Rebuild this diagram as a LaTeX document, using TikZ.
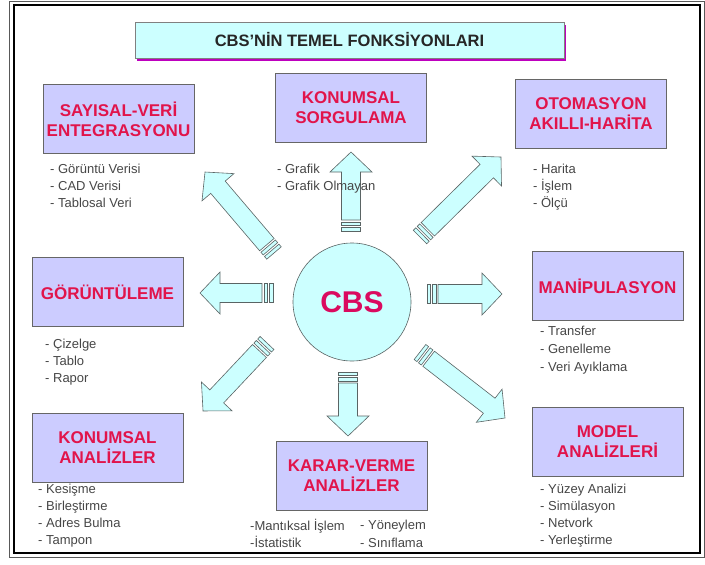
\documentclass[tikz,border=0pt]{standalone}
\usepackage{fontspec}
\setmainfont{Liberation Sans}
\usetikzlibrary{shadows}

\definecolor{boxfill}{RGB}{204,204,255}
\definecolor{cyanfill}{RGB}{204,255,255}
\definecolor{boxred}{RGB}{225,20,75}
\definecolor{cbsred}{RGB}{218,10,95}
\definecolor{shadowmag}{RGB}{190,0,190}
\definecolor{edgegray}{RGB}{90,100,100}
\definecolor{itemgray}{RGB}{70,70,70}

% striped block arrow from tail coordinate #1 to tip coordinate #2
\newcommand{\stripearrow}[2]{%
  \pgfmathanglebetweenpoints{\pgfpointanchor{#1}{center}}{\pgfpointanchor{#2}{center}}%
  \let\arrang\pgfmathresult
  \pgfpointdiff{\pgfpointanchor{#1}{center}}{\pgfpointanchor{#2}{center}}%
  \pgfgetlastxy{\arrdx}{\arrdy}%
  \pgfmathveclen{\arrdx}{\arrdy}%
  \let\arrlen\pgfmathresult
  \begin{scope}[shift={(#1)}, rotate=\arrang]
    \filldraw[barrow] (0,-9.5) rectangle (3.5,9.5);
    \filldraw[barrow] (5.5,-9.5) rectangle (9,9.5);
    \filldraw[barrow] (11,-9.5) -- (\arrlen-20,-9.5) -- (\arrlen-20,-21)
      -- (\arrlen,0) -- (\arrlen-20,21) -- (\arrlen-20,9.5) -- (11,9.5) -- cycle;
  \end{scope}}

\begin{document}
\begin{tikzpicture}[
    x=1pt,
    y=-1pt,
    box/.style={draw=black!60, fill=boxfill, minimum width=151pt, minimum height=69pt,
        inner sep=1pt, align=center, text=boxred, font=\fontsize{17}{20}\selectfont\bfseries},
    headbox/.style={draw=black!50, fill=cyanfill, minimum width=429pt, minimum height=36pt,
        text=black!85, font=\fontsize{16.5}{20}\selectfont\bfseries,
        drop shadow={shadow xshift=2pt, shadow yshift=-3pt, fill=shadowmag, opacity=1}},
    items/.style={anchor=north west, align=left, inner sep=0pt, text=itemgray,
        font=\fontsize{13}{17}\selectfont, execute at begin node=\rule{0pt}{12.5pt}},
    wideitems/.style={items, font=\fontsize{13}{18}\selectfont},
    barrow/.style={draw=edgegray, fill=cyanfill, line width=0.6pt},
    cbs/.style={circle, draw=edgegray, fill=cyanfill, line width=0.6pt, minimum size=118pt,
        text=cbsred, font=\fontsize{30}{36}\selectfont\bfseries},
]
    \useasboundingbox (0,0) rectangle (705,565);
    \draw[black!65, line width=0.8pt] (9,1.5) rectangle (704,557);
    \draw[black, line width=2pt] (14,5) rectangle (700,553);

    \node[headbox] (title) at (349.5,40) {CBS’NİN TEMEL FONKSİYONLARI};

    \node[box] (sayisal) at (118.5,119) {SAYISAL-VERİ\\ENTEGRASYONU};
    \node[box] (sorgu) at (351,107.5) {KONUMSAL\\SORGULAMA};
    \node[box] (otomasyon) at (591,113.5) {OTOMASYON\\AKILLI-HARİTA};
    \node[box] (goruntu) at (107.5,292) {GÖRÜNTÜLEME};
    \node[box] (manip) at (607.5,286) {MANİPULASYON};
    \node[box] (konanaliz) at (107.5,447.5) {KONUMSAL\\ANALİZLER};
    \node[box] (karar) at (351.5,476) {KARAR-VERME\\ANALİZLER};
    \node[box] (model) at (607.5,442) {MODEL\\ANALİZLERİ};

    \node[cbs] (cbs) at (352,302) {CBS};

    \coordinate (t-sorgu) at (351,231);
    \coordinate (h-sorgu) at (351,152);
    \coordinate (t-karar) at (348,372);
    \coordinate (h-karar) at (348,436);
    \coordinate (t-goruntu) at (273,293);
    \coordinate (h-goruntu) at (200,293);
    \coordinate (t-manip) at (427,294);
    \coordinate (h-manip) at (502,294);
    \coordinate (t-sayisal) at (274,253);
    \coordinate (h-sayisal) at (205,172);
    \coordinate (t-otomasyon) at (420,237);
    \coordinate (h-otomasyon) at (501,157);
    \coordinate (t-konanaliz) at (267,343);
    \coordinate (h-konanaliz) at (203,411);
    \coordinate (t-model) at (420,352);
    \coordinate (h-model) at (505,418);

    \stripearrow{t-sorgu}{h-sorgu}
    \stripearrow{t-karar}{h-karar}
    \stripearrow{t-goruntu}{h-goruntu}
    \stripearrow{t-manip}{h-manip}
    \stripearrow{t-sayisal}{h-sayisal}
    \stripearrow{t-otomasyon}{h-otomasyon}
    \stripearrow{t-konanaliz}{h-konanaliz}
    \stripearrow{t-model}{h-model}

    \node[items] (sayisal-list) at (50,164) {- Görüntü Verisi\\- CAD Verisi\\- Tablosal Veri};
    \node[items] (sorgu-list) at (277,164) {- Grafik\\- Grafik Olmayan};
    \node[items] (otomasyon-list) at (533,164) {- Harita\\- İşlem\\- Ölçü};
    \node[items] (goruntu-list) at (45,339) {- Çizelge\\- Tablo\\- Rapor};
    \node[wideitems] (manip-list) at (540,326) {- Transfer\\- Genelleme\\- Veri Ayıklama};
    \node[items] (konanaliz-list) at (38,484) {- Kesişme\\- Birleştirme\\- Adres Bulma\\- Tampon};
    \node[items] (karar-list1) at (250,519) {-Mantıksal İşlem\\-İstatistik};
    \node[wideitems] (karar-list2) at (360,520) {- Yöneylem\\- Sınıflama};
    \node[items] (model-list) at (540,484) {- Yüzey Analizi\\- Simülasyon\\- Netvork\\- Yerleştirme};
\end{tikzpicture}
\end{document}
